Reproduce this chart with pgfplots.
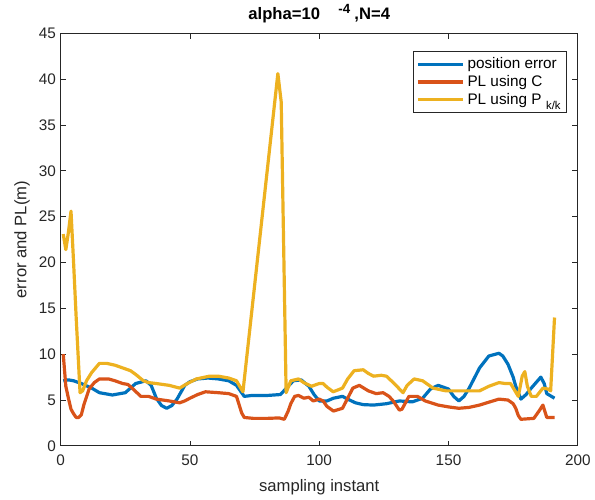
\documentclass[border=0pt]{standalone}
\usepackage{fontspec}
\setmainfont{Liberation Sans}
\usepackage{pgfplots}
\pgfplotsset{compat=1.18}
\definecolor{mblue}{rgb}{0,0.447,0.741}
\definecolor{mred}{rgb}{0.85,0.325,0.098}
\definecolor{myellow}{rgb}{0.929,0.694,0.125}
\definecolor{axgray}{rgb}{0.15,0.15,0.15}

\begin{document}
\begin{tikzpicture}
\begin{axis}[
    width=388.5pt, height=310pt, scale only axis,
    xmin=0, xmax=200, ymin=0, ymax=45,
    xtick={0,50,...,200}, ytick={0,5,...,45},
    tick align=inside, major tick length=4pt,
    axis line style={draw=axgray, line width=0.6pt},
    every tick/.style={draw=axgray, line width=0.6pt},
    tick label style={font=\fontsize{11.5}{13}\selectfont, text=axgray},
    /pgf/number format/assume math mode=true,
    xticklabel shift=3pt, xlabel shift=4pt,
    xlabel={sampling instant}, ylabel={error and PL(m)},
    label style={font=\fontsize{12.5}{14}\selectfont, text=axgray},
    title={\bfseries alpha=10\hspace{1.1em}\raisebox{0.7ex}{\fontsize{10}{12}\selectfont -4}\hspace{0.25em},N=4},
    title style={font=\fontsize{12.5}{14}\selectfont, yshift=-2pt},
    legend style={at={(0.979,0.956)}, anchor=north east, draw=axgray, line width=0.5pt,
        font=\fontsize{11.5}{13}\selectfont, row sep=-0.5pt, inner sep=2.5pt},
    legend cell align=left,
    legend image code/.code={\draw[#1, line width=2.4pt] (0cm,0cm) -- (1.2cm,0cm);},
    every axis plot/.append style={line width=2.4pt, line join=round},
]
\addplot[mblue, line width=2.4pt] coordinates {
(1,7.1)(3,7.2)(5,7.1)(8,6.8)(12,6.3)(15,5.8)(20,5.55)(25,5.8)(29,6.8)(33,7.1)(35,6.6)
(37,5.2)(39,4.4)(41,4.1)(43,4.4)(45,5.1)(48,6.6)(50,7.0)(53,7.3)(57,7.4)(61,7.3)(65,7.1)
(68,6.6)(70,5.8)(71,5.4)(74,5.5)(80,5.5)(85,5.6)(87,6.2)(90,7.1)(93,7.2)(96,6.5)(98,5.6)
(100,4.9)(103,4.9)(105.5,5.2)(109,5.4)(111,5.1)(114,4.7)(117,4.5)(121,4.45)(126,4.6)
(131,4.9)(136,4.8)(140,5.2)(143,6.2)(146,6.6)(150,6.2)(152,5.4)(154,4.9)(156,5.4)(158,6.3)
(162,8.5)(165.6,9.8)(169.5,10.1)(171,9.8)(173,8.9)(175,7.5)(176,6.5)(178,5.1)(180,5.6)
(182,6.3)(185.7,7.5)(187,6.8)(188,5.7)(191,5.2)
};
\addlegendentry{position error}
\addplot[mred, line width=2.4pt] coordinates {
(1,10.0)(2,6.5)(3,5.2)(4,4.0)(5,3.5)(6,3.1)(7,3.1)(8,3.4)(9,4.5)(11,6.2)(13,6.9)(15,7.3)
(18.5,7.3)(21,7.1)(24,6.8)(26,6.7)(28,6.2)(31,5.4)(34,5.4)(37,5.1)(42,4.9)(46,4.7)(48,4.9)
(50,5.2)(53,5.6)(56,5.9)(61,5.8)(65,5.7)(68,5.4)(69,4.5)(70,3.6)(71,3.1)(74.5,3.0)(80,3.0)
(84.5,3.05)(86.5,2.9)(88,3.8)(89,4.6)(90.5,5.4)(92,5.5)(94,5.2)(96,5.3)(97.7,4.9)(100,5.1)
(101.5,4.9)(103,4.3)(105.5,3.8)(109,4.1)(111,5.2)(113,6.3)(115.5,6.6)(119,6.0)(122,5.7)
(124.7,5.8)(127,5.4)(128.6,4.9)(131,3.9)(132,4.0)(134.7,5.4)(138,5.4)(141,4.9)(146,4.45)
(150,4.25)(154,4.1)(158,4.2)(162,4.45)(166,4.8)(169.5,5.1)(173,5.0)(175,4.6)(176,4.1)
(177,3.3)(178,2.9)(183,3.0)(185,3.8)(186.5,4.45)(188,3.1)(191,3.1)
};
\addlegendentry{PL using C}
\addplot[myellow, line width=2.4pt] coordinates {
(1,23.1)(2,21.4)(3,23.3)(4,25.6)(5,20.0)(6,14.0)(7.5,5.8)(8.5,6.0)(10,7.1)(12,8.0)(15,9.0)
(17.8,9.0)(21,8.8)(24,8.5)(27,8.2)(29,7.8)(32,7.1)(34,6.9)(37,6.8)(42,6.6)(46,6.3)(49,6.8)
(52.5,7.3)(57.5,7.6)(61,7.6)(65,7.4)(68,7.1)(70.5,5.9)(84,40.6)(85.3,37.5)(87.2,5.8)
(89,7.1)(92,7.3)(94,6.9)(97,6.5)(100,6.8)(101.5,6.8)(103,6.4)(105.4,5.9)(109,6.3)(111,7.3)
(113.5,8.2)(117,8.3)(119,7.9)(121,7.6)(124,7.7)(126,7.6)(129,6.8)(132.4,5.8)(134,6.6)
(136.7,7.3)(140,7.1)(144,6.3)(149,6.0)(156.8,6.0)(162,6.0)(165.6,6.5)(169.5,6.9)(172,6.8)
(174,6.8)(177,5.4)(178.5,7.6)(179.5,8.1)(180.5,6.5)(182,5.4)(184,5.4)(186.5,6.3)
(188.5,6.2)(189.5,6.0)(191,14.0)
};
\addlegendentry{PL using P\hspace{0.3em}\raisebox{-0.6ex}{\fontsize{8.5}{10}\selectfont k/k}}
\end{axis}
\path ([xshift=-7.4pt]current axis.outer west);
\end{tikzpicture}
\end{document}
